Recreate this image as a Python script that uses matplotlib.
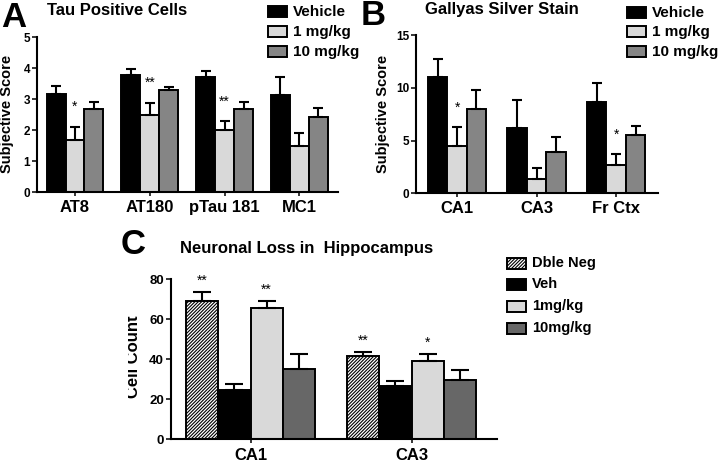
import matplotlib
matplotlib.use('Agg')
import matplotlib.pyplot as plt
from matplotlib.patches import Rectangle
from matplotlib.transforms import Affine2D
import numpy as np

plt.rcParams['font.family'] = ['Liberation Sans', 'DejaVu Sans']
plt.rcParams['hatch.linewidth'] = 0.8
plt.rcParams['hatch.color'] = 'black'

# ---------------- Panel A: Tau Positive Cells ----------------
a_categories = ['AT8', 'AT180', 'pTau 181', 'MC1']
a_series = ['Vehicle', '1 mg/kg', '10 mg/kg']
a_vehicle = [3.16, 3.78, 3.70, 3.12]
a_vehicle_err = [0.27, 0.18, 0.21, 0.59]
a_1mg = [1.68, 2.50, 2.00, 1.48]
a_1mg_err = [0.42, 0.37, 0.28, 0.44]
a_10mg = [2.69, 3.28, 2.68, 2.43]
a_10mg_err = [0.21, 0.10, 0.22, 0.29]
a_stars = [(0, 1, '*'), (1, 1, '**'), (2, 1, '**')]

# ---------------- Panel B: Gallyas Silver Stain ----------------
b_categories = ['CA1', 'CA3', 'Fr Ctx']
b_series = ['Vehicle', '1 mg/kg', '10 mg/kg']
b_vehicle = [10.98, 6.24, 8.63]
b_vehicle_err = [1.76, 2.61, 1.79]
b_1mg = [4.46, 1.41, 2.73]
b_1mg_err = [1.82, 1.01, 1.00]
b_10mg = [8.00, 3.92, 5.49]
b_10mg_err = [1.82, 1.41, 0.94]
b_stars = [(0, 1, '*'), (2, 1, '*')]

# ---------------- Panel C: Neuronal Loss in Hippocampus ----------------
c_categories = ['CA1', 'CA3']
c_series = ['Dble Neg', 'Veh', '1mg/kg', '10mg/kg']
c_dble = [69.3, 41.7]
c_dble_err = [4.4, 2.0]
c_veh = [24.7, 26.8]
c_veh_err = [2.8, 2.4]
c_1mg = [65.5, 39.2]
c_1mg_err = [3.5, 3.6]
c_10mg = [35.3, 29.5]
c_10mg_err = [7.2, 5.0]
c_stars = [(0, 0, '**'), (0, 2, '**'), (1, 0, '**'), (1, 2, '*')]

W, H = 720, 465
fig = plt.figure(figsize=(W / 100, H / 100), dpi=100)
pix = Affine2D().scale(1 / W, -1 / H).translate(0, 1) + fig.transFigure


def ax_at(left, top, right, bottom):
    return fig.add_axes([left / W, 1 - bottom / H, (right - left) / W, (bottom - top) / H])


def style(ax, ytick_fs, xtick_fs, xpad):
    for s in ['top', 'right']:
        ax.spines[s].set_visible(False)
    for s in ['left', 'bottom']:
        ax.spines[s].set_linewidth(1.5)
    ax.tick_params(axis='y', direction='out', length=3.5, width=1.1, pad=1.5,
                   labelsize=ytick_fs)
    ax.tick_params(axis='x', direction='out', length=3, width=1.1, pad=xpad,
                   labelsize=xtick_fs)
    for lab in ax.get_xticklabels() + ax.get_yticklabels():
        lab.set_fontweight('bold')


def draw_group(ax, values, errs, colors, hatches, width, capsize, stars, star_off):
    n = len(values)
    ncat = len(values[0])
    x = np.arange(ncat)
    offsets = (np.arange(n) - (n - 1) / 2) * width
    for i in range(n):
        ax.bar(x + offsets[i], values[i], width=width, color=colors[i],
               edgecolor='black', linewidth=1.4, hatch=hatches[i], zorder=2)
        ax.errorbar(x + offsets[i], values[i],
                    yerr=[np.zeros(ncat), errs[i]], fmt='none', ecolor='black',
                    elinewidth=1.5, capsize=capsize, capthick=1.5, zorder=3)
    for (g, s, txt) in stars:
        top = values[s][g] + errs[s][g]
        ax.annotate(txt, xy=(g + offsets[s], top), xytext=(0, star_off),
                    textcoords='offset points', ha='center', va='bottom',
                    fontsize=10)


def legend(x_patch, y_centers, labels, colors, hatches, fs, pw=19, ph=11):
    for yc, lab, col, h in zip(y_centers, labels, colors, hatches):
        fig.add_artist(Rectangle((x_patch, yc - ph / 2), pw, ph, transform=pix,
                                 facecolor=col, edgecolor='black', linewidth=1.4,
                                 hatch=h))
        fig.text(x_patch + pw + 6, yc, lab, transform=pix, ha='left', va='center',
                 fontsize=fs, fontweight='bold')


light = '#d9d9d9'
dark_ab = '#858585'
dark_c = '#676767'
hatch_c = '//////////'

# ---- Panel A ----
axA = ax_at(37.3, 37, 338, 192.3)
draw_group(axA, [a_vehicle, a_1mg, a_10mg], [a_vehicle_err, a_1mg_err, a_10mg_err],
           ['black', light, dark_ab], [None, None, None], 0.253, 3.8, a_stars, 9.5)
axA.set_xlim(-0.504, 3.516)
axA.set_ylim(0, 5)
axA.set_yticks(range(0, 6))
axA.set_xticks(range(len(a_categories)))
axA.set_xticklabels(a_categories)
style(axA, 8.5, 12, 2.5)
fig.text(11, 114, 'Subjective Score', transform=pix, rotation=90,
         rotation_mode='anchor', ha='center', va='baseline', fontsize=10.5,
         fontweight='bold')
fig.text(47, 15, 'Tau Positive Cells', transform=pix, ha='left', va='baseline',
         fontsize=12, fontweight='bold')
fig.text(1, 27, 'A', transform=pix, ha='left', va='baseline', fontsize=25,
         fontweight='bold')
legend(268, [11.5, 32, 52], a_series, ['black', light, dark_ab], [None] * 3, 11)

# ---- Panel B ----
axB = ax_at(416, 35, 658, 193.5)
draw_group(axB, [b_vehicle, b_1mg, b_10mg], [b_vehicle_err, b_1mg_err, b_10mg_err],
           ['black', light, dark_ab], [None, None, None], 0.245, 3.8, b_stars, 9)
axB.set_xlim(-0.516, 2.528)
axB.set_ylim(0, 15)
axB.set_yticks([0, 5, 10, 15])
axB.set_xticks(range(len(b_categories)))
axB.set_xticklabels(b_categories)
style(axB, 8.5, 12, 2.5)
fig.text(387, 114, 'Subjective Score', transform=pix, rotation=90,
         rotation_mode='anchor', ha='center', va='baseline', fontsize=10.5,
         fontweight='bold')
fig.text(425, 14, 'Gallyas Silver Stain', transform=pix, ha='left', va='baseline',
         fontsize=12, fontweight='bold')
fig.text(361, 25, 'B', transform=pix, ha='left', va='baseline', fontsize=25,
         fontweight='bold')
legend(627, [13, 32, 52], b_series, ['black', light, dark_ab], [None] * 3, 11)

# ---- Panel C ----
axC = ax_at(171, 279.3, 497, 439.3)
draw_group(axC, [c_dble, c_veh, c_1mg, c_10mg],
           [c_dble_err, c_veh_err, c_1mg_err, c_10mg_err],
           ['white', 'black', light, dark_c], [hatch_c, None, None, None], 0.2, 6.5,
           c_stars, 3)
axC.set_xlim(-0.494, 1.531)
axC.set_ylim(0, 80)
axC.set_yticks(range(0, 81, 20))
axC.set_xticks(range(len(c_categories)))
axC.set_xticklabels(c_categories)
style(axC, 9.5, 12, 3.5)
fig.text(138.3, 357, 'Cell Count', transform=pix, rotation=90,
         rotation_mode='anchor', ha='center', va='baseline', fontsize=12,
         fontweight='bold')
# the reference clips the left part of this label
fig.add_artist(Rectangle((100, 300), 27.7, 120, transform=pix, facecolor='white',
                         edgecolor='none', zorder=10))
fig.text(180, 253, 'Neuronal Loss in  Hippocampus', transform=pix, ha='left',
         va='baseline', fontsize=12, fontweight='bold')
fig.text(121, 254, 'C', transform=pix, ha='left', va='baseline', fontsize=25,
         fontweight='bold')
legend(507, [263, 284, 306, 328], c_series, ['white', 'black', light, dark_c],
       [hatch_c, None, None, None], 10.5)

fig.savefig('out.png', dpi=100)
